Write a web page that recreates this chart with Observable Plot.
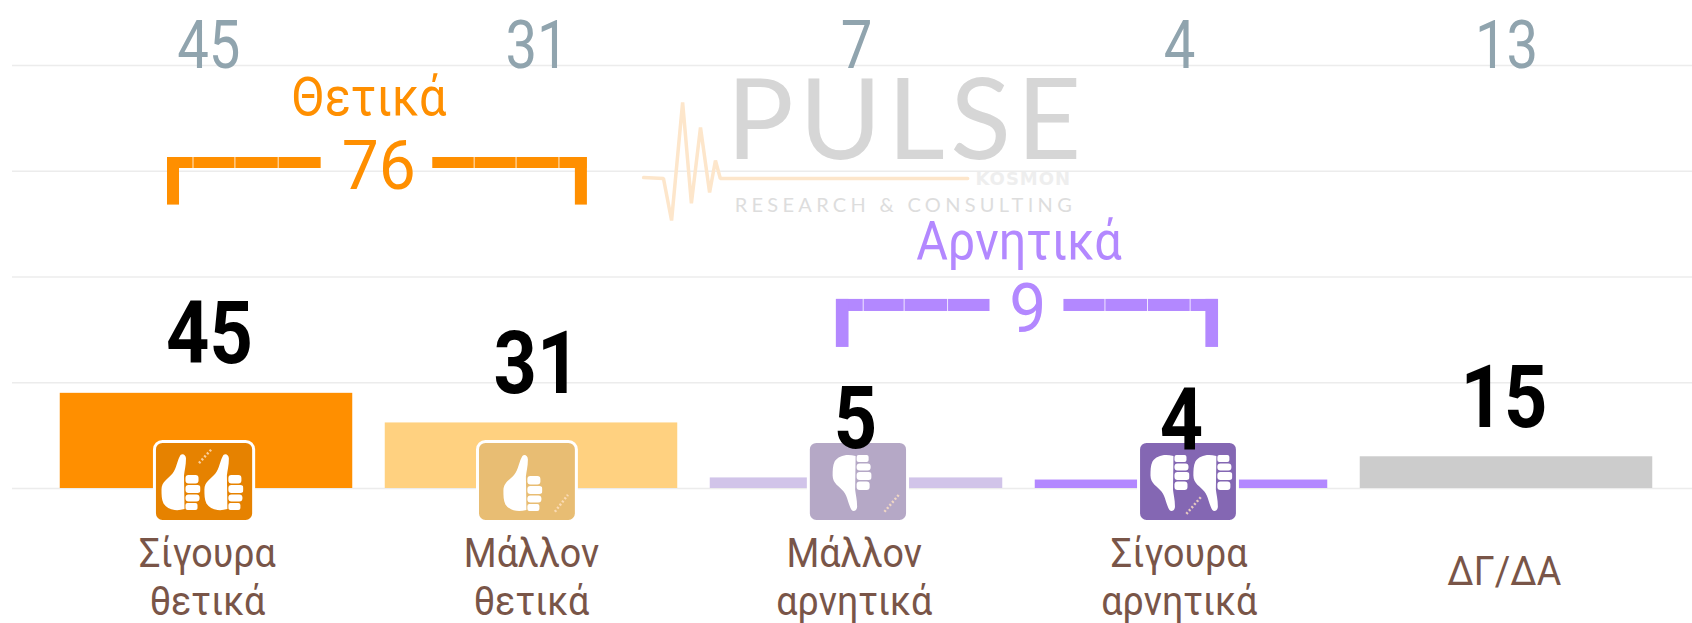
<!DOCTYPE html>
<html>
<head>
<meta charset="utf-8">
<script src="https://cdn.jsdelivr.net/npm/d3@7"></script>
<script src="https://cdn.jsdelivr.net/npm/@observablehq/plot@0.6"></script>
<style>
html,body{margin:0;padding:0;background:#fff;overflow:hidden}
svg{display:block}
.pulse text{letter-spacing:5.5px}
.research text{letter-spacing:4.3px}
.kosmon text{letter-spacing:1px}
</style>
</head>
<body>
<div id="chart"></div>
<script>
// Data
const categories = ["Σίγουρα\nθετικά", "Μάλλον\nθετικά", "Μάλλον\nαρνητικά", "Σίγουρα\nαρνητικά", "ΔΓ/ΔΑ"];
const values = [45, 31, 5, 4, 15];
const previous = [45, 31, 7, 4, 13];
const barColors = ["#ff8f00", "#ffd180", "#d1c4e9", "#b388ff", "#cccccc"];
const ticks = [0, 50, 100, 150, 200];
const previousX = [0.507, 1.517, 2.5, 3.494, 4.5];
const valueX = [0.509, 1.517, 2.497, 3.5, 4.492];
const categoryX = [0.503, 1.5, 2.493, 3.493, 4.493];
const labelBaselines = [-60, -60, -60, -60, -45.4];

const groups = [
  {label: "Θετικά", total: 76, color: "#ff8f00", x: 1.03, titleX: 1.0, labelY: 176.4, totalY: 141.4, top: 156.5, bar: 151.3, bottom: 134,
   cells: [[.380,.460],[.460,.589],[.589,.722],[.722,.854],[1.195,1.325],[1.325,1.454],[1.454,1.586],[1.586,1.672]],
   legs: [[.380,.417],[1.635,1.672]]},
  {label: "Αρνητικά", total: 9, color: "#b388ff", x: 3.027, titleX: 3.0, labelY: 108.7, totalY: 73.8, top: 89.4, bar: 83.7, bottom: 66.7,
   cells: [[2.438,2.522],[2.522,2.648],[2.648,2.782],[2.782,2.912],[3.137,3.266],[3.266,3.397],[3.397,3.528],[3.528,3.614]],
   legs: [[2.438,2.477],[3.575,3.614]]}
];
const iconLeft = [.346, 1.340, 2.358, 3.374];
const iconRight = [.642, 1.635, 2.654, 3.669];
const iconColors = ["#e68200", "#e8bd73", "#b5a8c6", "#8467b3"];
const iconBottom = -15.1, iconTop = 21.3;
const thumbs = [
  {x: .420, y: 2.8, down: false}, {x: .552, y: 2.8, down: false},
  {x: 1.472, y: 2.4, down: false},
  {x: 2.485, y: 2.8, down: true},
  {x: 3.463, y: 2.8, down: true}, {x: 3.595, y: 2.8, down: true}
];
const pens = [
  {x1: .477, y1: 12, x2: .515, y2: 18.5},
  {x1: 1.572, y1: -11, x2: 1.612, y2: -3},
  {x1: 2.586, y1: -11, x2: 2.630, y2: -3},
  {x1: 3.515, y1: -12, x2: 3.560, y2: -4}
];
const pulseX = [1.845, 1.906, 1.931, 1.965, 1.992, 2.020, 2.048, 2.066, 2.081, 2.842];
const pulseY = [147.0, 146.6, 126.7, 182.5, 134.8, 170.7, 140, 155.1, 146.6, 146.6];

const thumbSvg = down => {
  const body = `<path d="M1 36C1 28 8 25 12 20C16 15 17 6 20 1.5C22 -.5 25.5 1 25.5 5C25.5 12 24 17 23.5 22L24 55.5C15 58 7 56 3 50C1 46 1 41 1 36Z"/>
  <rect x="25" y="21.5" width="13" height="8.5" rx="3"/><rect x="25" y="31.5" width="15" height="8" rx="3"/>
  <rect x="25" y="41" width="14" height="7" rx="3"/><rect x="25" y="49.5" width="12" height="7" rx="2"/>`;
  const inner = down ? `<g transform="translate(0 58) scale(1 -1)">${body}</g>` : body;
  return "data:image/svg+xml," + encodeURIComponent(`<svg xmlns="http://www.w3.org/2000/svg" viewBox="0 0 40 58" fill="#fff">${inner}</svg>`);
};

const chart = Plot.plot({
  width: 1692,
  height: 623,
  marginTop: 0, marginBottom: 0, marginRight: 0, marginLeft: 12,
  x: {type: "linear", domain: [0, 5], range: [43.5, 1668.5], axis: null},
  y: {type: "linear", domain: [0, 200], range: [488, 65], axis: null},
  color: {type: "identity"},
  style: {background: "#fff", fontFamily: "Roboto, sans-serif"},
  marks: [
    Plot.ruleY(ticks, {stroke: "#ececec", strokeWidth: 1.5}),
    // watermark
    Plot.line(pulseX, {x: d => d, y: (d, i) => pulseY[i], stroke: "#fde6cb", strokeWidth: 3.5, strokeLinejoin: "miter"}),
    Plot.text(["PULSE"], {x: 2.100, y: 156, text: d => d, textAnchor: "start", lineAnchor: "bottom", fontSize: 112, fontFamily: "Lato", fontWeight: 400, fill: "#d6d6d6", className: "pulse"}),
    Plot.text(["KOSMON"], {x: 2.866, y: 143.3, text: d => d, textAnchor: "start", lineAnchor: "bottom", fontSize: 18, fontFamily: "'DejaVu Sans'", fontWeight: 700, fill: "#eeeeee", className: "kosmon"}),
    Plot.text(["RESEARCH & CONSULTING"], {x: 2.125, y: 130.5, text: d => d, textAnchor: "start", lineAnchor: "bottom", fontSize: 20, fontFamily: "Lato", fill: "#dddddd", className: "research"}),
    // bars
    Plot.rect(values, {x1: (d, i) => i + .05, x2: (d, i) => i + .95, y1: 0, y2: d => d, fill: (d, i) => barColors[i]}),
    // previous values at top
    Plot.text(previous, {x: (d, i) => previousX[i], y: 198.6, text: d => String(d), lineAnchor: "bottom", fontSize: 67, fill: "#90a4ae", className: "sq84"}),
    // brackets
    ...groups.flatMap(g => [
      Plot.rect(g.cells, {x1: d => d[0], x2: d => d[1], y1: g.bar, y2: g.top, fill: g.color, insetLeft: .4, insetRight: .4}),
      Plot.rect(g.legs, {x1: d => d[0], x2: d => d[1], y1: g.bottom, y2: g.top, fill: g.color}),
      Plot.text([g.label], {x: g.titleX, y: g.labelY, text: d => d, lineAnchor: "bottom", fontSize: 54, fill: g.color, className: "sq90"}),
      Plot.text([g.total], {x: g.x, y: g.totalY, text: d => String(d), lineAnchor: "bottom", fontSize: 68, fill: g.color, className: "sq97"})
    ]),
    // icons
    Plot.rect(iconLeft, {x1: d => d, x2: (d, i) => iconRight[i], y1: iconBottom, y2: iconTop, fill: (d, i) => iconColors[i], stroke: "#fff", strokeWidth: 3, rx: 8, inset: -1.5}),
    Plot.image(thumbs, {x: "x", y: "y", width: 40, height: 58, preserveAspectRatio: "none", src: d => thumbSvg(d.down)}),
    Plot.link(pens, {x1: "x1", y1: "y1", x2: "x2", y2: "y2", stroke: "#ffe2c4", strokeOpacity: .8, strokeWidth: 2.5, strokeDasharray: "2 2"}),
    // value labels
    Plot.text(values, {x: (d, i) => valueX[i], y: d => d, dy: -30, text: d => String(d), lineAnchor: "bottom", fontSize: 88, fontWeight: 700, fill: "#000", className: "sq86"}),
    // category labels
    Plot.text(categories, {x: (d, i) => categoryX[i], y: (d, i) => labelBaselines[i], text: d => d, lineAnchor: "bottom", lineHeight: 1.2, fontSize: 40, fill: "#795548", className: "sq94"})
  ]
});
// the reference uses a condensed face: narrow the installed one horizontally
for (const [cls, sx] of [["sq84", .84], ["sq86", .86], ["sq90", .90], ["sq94", .94], ["sq97", .97]]) {
  d3.select(chart).selectAll(`.${cls} text`).attr("transform", function () {
    return `${this.getAttribute("transform") || ""} scale(${sx},1)`;
  });
}
document.getElementById("chart").appendChild(chart);
</script>
</body>
</html>
